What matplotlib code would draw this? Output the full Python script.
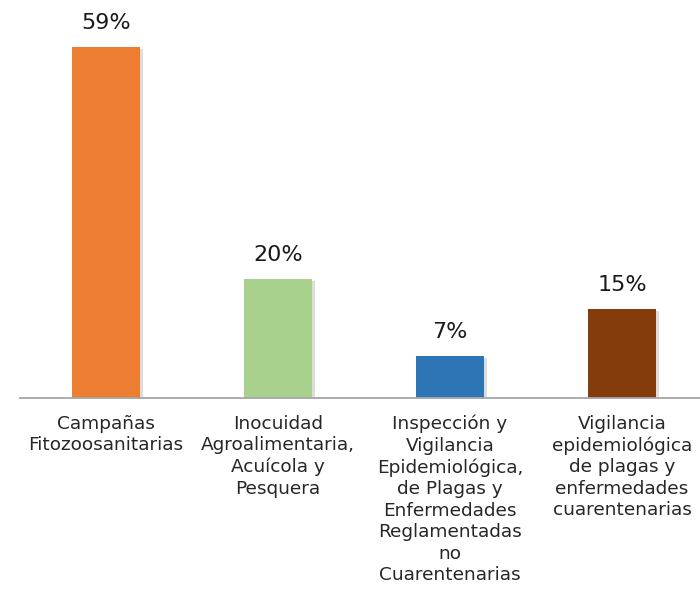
import matplotlib
matplotlib.use("Agg")
import matplotlib.pyplot as plt
import matplotlib.patheffects as pe
import numpy as np

categories = [
    "Campañas\nFitozoosanitarias",
    "Inocuidad\nAgroalimentaria,\nAcuícola y\nPesquera",
    "Inspección y\nVigilancia\nEpidemiológica,\nde Plagas y\nEnfermedades\nReglamentadas\nno\nCuarentenarias",
    "Vigilancia\nepidemiológica\nde plagas y\nenfermedades\ncuarentenarias",
]
values = [59, 20, 7, 15]
value_labels = ["59%", "20%", "7%", "15%"]
colors = ["#ED7D31", "#A9D18E", "#2E75B6", "#843C0C"]

plt.rcParams["font.family"] = ["DejaVu Sans"]

fig = plt.figure(figsize=(7, 5.92), dpi=100)
ax = fig.add_axes([20 / 700, 194 / 592, 680 / 700, 387 / 592])

x = np.arange(len(values))
bars = ax.bar(x, values, width=0.40, color=colors, zorder=3)
for b in bars:
    b.set_path_effects([pe.SimplePatchShadow(offset=(2, -1.5), alpha=0.2, shadow_rgbFace="#555555"),
                        pe.Normal()])

for xi, v, lab in zip(x, values, value_labels):
    ax.annotate(lab, (xi, v), xytext=(0, 10), textcoords="offset points",
                ha="center", va="bottom", fontsize=16, color="#1a1a1a")

ax.set_xlim(-0.5, -0.5 + 680 / 172)
ax.set_ylim(0, 65)
ax.set_xticks(x)
ax.set_xticklabels(categories, fontsize=13.3, color="#262626")
for t in ax.get_xticklabels():
    t.set_linespacing(1.25)
ax.tick_params(axis="x", length=0, pad=12)
ax.set_yticks([])

for s in ["top", "right", "left"]:
    ax.spines[s].set_visible(False)
ax.spines["bottom"].set_color("#a6a6a6")
ax.spines["bottom"].set_linewidth(1.3)
ax.spines["bottom"].set_zorder(4)

fig.savefig("out.png", dpi=100)
